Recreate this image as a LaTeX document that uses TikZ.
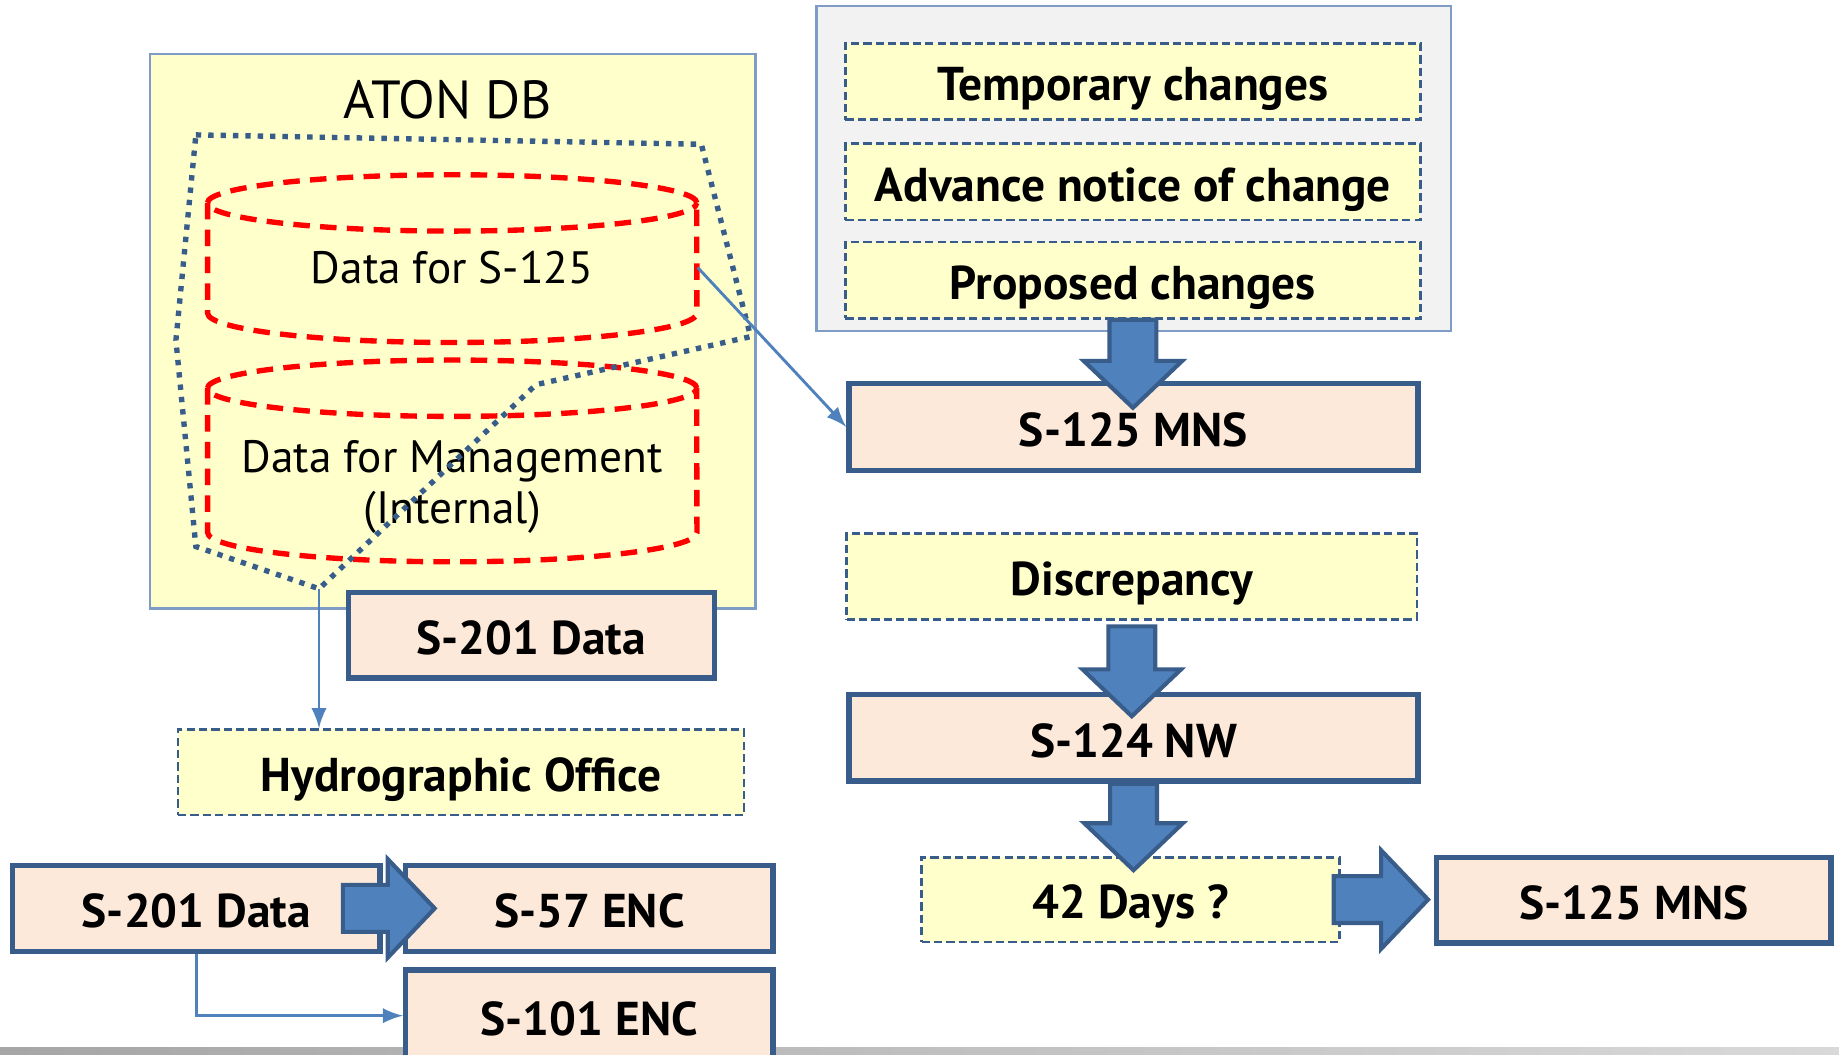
\documentclass[tikz,border=0pt]{standalone}
\usepackage{fontspec}
\setmainfont{PT Sans}
\usepackage{tikz}
\usetikzlibrary{calc,arrows}

\definecolor{notefill}{HTML}{FFFFCC}
\definecolor{datafill}{HTML}{FDE9D9}
\definecolor{edgeblue}{HTML}{385D8A}
\definecolor{arrowblue}{HTML}{4F81BD}
\definecolor{framegray}{HTML}{F2F2F2}
\definecolor{frameblue}{HTML}{7F9CC6}

\tikzset{
  databox/.style={draw=edgeblue, line width=1.3pt, fill=datafill, inner sep=0pt,
    text height=10.5pt, text depth=1.1pt, font=\bfseries\fontsize{11.5}{13}\selectfont},
  notebox/.style={draw=edgeblue, dash pattern=on 2pt off 1pt, line width=0.6pt,
    fill=notefill, inner sep=0pt, text height=10.5pt, text depth=1.1pt,
    font=\bfseries\fontsize{11.5}{13}\selectfont},
  fatarrow/.style={draw=edgeblue, line width=1pt, fill=arrowblue, line join=miter},
  thinline/.style={draw=arrowblue, line width=0.7pt},
  cyl/.style={draw=red, line width=1.3pt, dash pattern=on 4pt off 2.5pt},
  dbtext/.style={font=\fontsize{11}{12.5}\selectfont, inner sep=0pt}
}

% block arrows: start, target, overshoot
\newcommand{\fatdown}[3]{%
  \coordinate (fa) at (#1);
  \coordinate (fb) at ($(fa |- #2)+(0,#3)$);
  \draw[fatarrow] ($(fa)+(-20,0)$) -- ($(fb)+(-20,-40)$) -- ($(fb)+(-42,-40)$) -- (fb)
    -- ($(fb)+(42,-40)$) -- ($(fb)+(20,-40)$) -- ($(fa)+(20,0)$) -- cycle;}
\newcommand{\fatright}[3]{%
  \coordinate (fa) at (#1);
  \coordinate (fb) at ($(fa -| #2)+(#3,0)$);
  \draw[fatarrow] ($(fa)+(0,-20)$) -- ($(fb)+(-40,-20)$) -- ($(fb)+(-40,-42)$) -- (fb)
    -- ($(fb)+(-40,42)$) -- ($(fb)+(-40,20)$) -- ($(fa)+(0,20)$) -- cycle;}

\begin{document}
\begin{tikzpicture}[x=0.01cm, y=-0.01cm]
    \clip (0,0) rectangle (1568,899);
    \shade[left color=gray!70, right color=gray!30] (0,893) rectangle (1568,899);

    % ATON DB
    \draw[frameblue, fill=notefill, line width=0.6pt] (128,46) rectangle (644,519);
    \node[font=\fontsize{13}{15}\selectfont] (aton) at (382,85) {ATON DB};
    \foreach \t/\b in {173/267, 331/454}{
        \draw[cyl] (385.5,\t) ellipse [x radius=2.085cm, y radius=0.24cm];
        \draw[cyl] (177,\t) -- (177,\b) arc[start angle=180, end angle=360, x radius=2.085cm, y radius=0.25cm] -- (594,\t);
    }
    \node[dbtext, minimum width=4.17cm] (dat125) at (385.5,228) {Data for S-125};
    \node[dbtext, align=center] (datman) at (385.5,415) {Data for Management\\(Internal)};
    \coordinate (apex) at (272,502);
    \draw[edgeblue, line width=1.3pt, dash pattern=on 1.3pt off 1.7pt] (167,115) -- (598,123) -- (640,287) -- (457,328) -- (apex) -- (167,466) -- (150,290) -- cycle;
    \node[databox, minimum width=3.12cm, minimum height=0.73cm] (s201a) at (453,541.5) {S-201 Data};

    \node[notebox, minimum width=4.82cm, minimum height=0.73cm] (hydro) at (393,658.5) {Hydrographic Office};
    \draw[thinline, -latex] (apex) -- (apex |- hydro.north);

    \node[databox, minimum width=3.13cm, minimum height=0.73cm] (s201b) at (167.5,774.5) {S-201 Data};
    \node[databox, minimum width=3.13cm, minimum height=0.73cm] (s57) at (502.5,774.5) {S-57 ENC};
    \node[databox, minimum width=3.13cm, minimum height=0.78cm] (s101) at (502.5,866) {S-101 ENC};
    \draw[thinline, -latex] (s201b.south) |- (s101.west);
    \fatright{$(s201b.east)+(-34,0)$}{s57.west}{27}

    % changes
    \draw[frameblue, fill=framegray, line width=0.6pt] (696,5) rectangle (1237,282);
    \foreach \n/\y/\t in {temp/69.5/Temporary changes, adv/155/Advance notice of change, prop/239/Proposed changes}
        \node[notebox, minimum width=4.9cm, minimum height=0.65cm] (\n) at (966,\y) {\t};
    \node[databox, minimum width=4.85cm, minimum height=0.74cm] (mns1) at (966.5,364) {S-125 MNS};
    \node[notebox, minimum width=4.86cm, minimum height=0.73cm] (discr) at (965,491.5) {Discrepancy};
    \node[databox, minimum width=4.85cm, minimum height=0.74cm] (nw) at (966.5,629) {S-124 NW};
    \node[notebox, minimum width=3.56cm, minimum height=0.72cm] (days) at (964,767) {42 Days ?};
    \node[databox, minimum width=3.36cm, minimum height=0.73cm] (mns2) at (1393,767.5) {S-125 MNS};

    \draw[thinline, -latex] (dat125.east) -- (mns1.west);
    \fatdown{prop.south}{mns1.north}{23}
    \fatdown{$(discr.south)+(0,5)$}{nw.north}{21}
    \fatdown{nw.south}{days.north}{12}
    \fatright{$(days.east)+(-6,0)$}{mns2.west}{-5}
\end{tikzpicture}
\end{document}
